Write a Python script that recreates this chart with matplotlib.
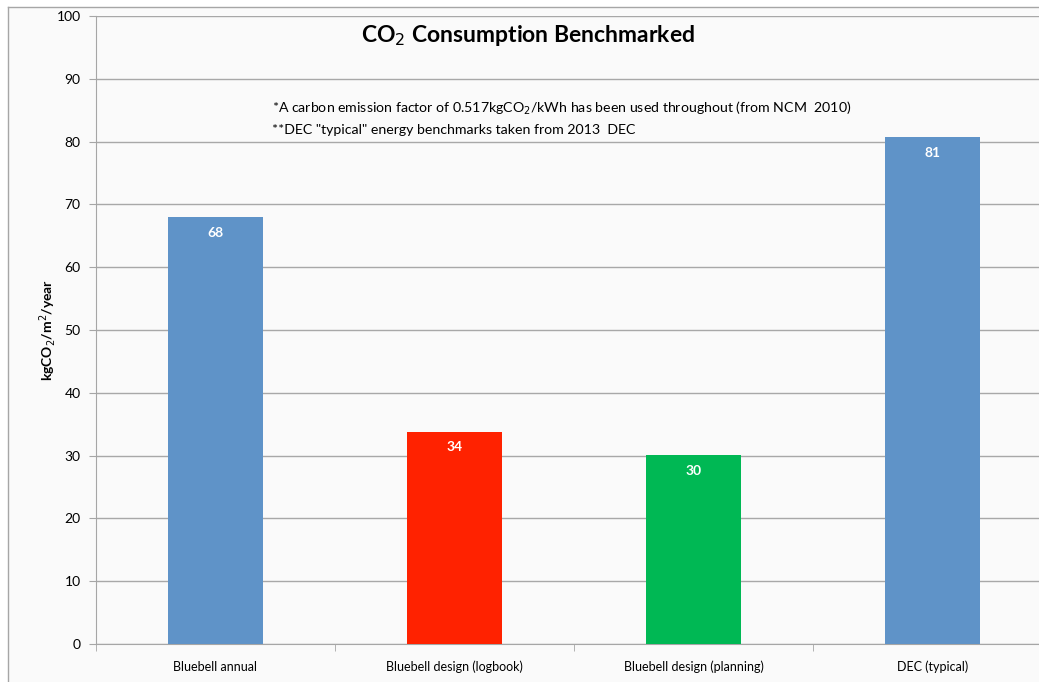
import matplotlib.pyplot as plt
from matplotlib.lines import Line2D

categories = ["Bluebell annual", "Bluebell design (logbook)",
              "Bluebell design (planning)", "DEC (typical)"]
values = [68.0, 33.8, 30.1, 80.7]
value_labels = ["68", "34", "30", "81"]
colors = ["#5F93C8", "#FF2200", "#00B854", "#5F93C8"]

W, H = 1039, 682
plt.rcParams["font.family"] = ["Lato", "DejaVu Sans"]

fig = plt.figure(figsize=(W / 100, H / 100), dpi=100)
fig.patch.set_facecolor("#FFFFFF")

# chart frame (left and top edges visible)
fig.add_artist(Line2D([8 / W, 8 / W], [0, 1 - 7 / H], color="#A6A6A6", lw=1.0))
fig.add_artist(Line2D([8 / W, 1], [1 - 7 / H, 1 - 7 / H], color="#A6A6A6", lw=1.0))
fig.patches.append(plt.Rectangle((9 / W, 0), 1, 1 - 8 / H, transform=fig.transFigure,
                                 facecolor="#FAFAFA", edgecolor="none", zorder=-5))

left, bottom, top = 96, 644, 16
ax = fig.add_axes([left / W, 1 - bottom / H, 956 / W, (bottom - top) / H])
ax.set_facecolor("#FAFAFA")

x = range(len(categories))
bars = ax.bar(x, values, width=0.4, color=colors, zorder=3)
for xi, v, lab in zip(x, values, value_labels):
    ax.text(xi, v - 2.5, lab, ha="center", va="center", color="white",
            fontsize=10, fontweight="bold", zorder=4)

ax.set_xlim(-0.5, 3.5)
ax.set_ylim(0, 100)
ax.set_yticks(range(0, 101, 10))
ax.yaxis.grid(True, color="#A8A8A8", lw=1.0, zorder=0)
ax.set_axisbelow(True)
ax.set_xticks(list(x))
ax.set_xticklabels(categories, fontsize=9)
ax.set_xticks([-0.5, 0.5, 1.5, 2.5], minor=True)
ax.tick_params(axis="x", which="major", length=0, pad=12)
ax.tick_params(axis="x", which="minor", length=5, color="#A6A6A6")
ax.tick_params(axis="y", length=5, color="#A6A6A6", labelsize=10, pad=6)
for s in ["top", "right"]:
    ax.spines[s].set_visible(False)
for s in ["left", "bottom"]:
    ax.spines[s].set_color("#A6A6A6")

ax.set_ylabel(r"kgCO$_2$/m$^2$/year", fontsize=10, fontweight="bold", labelpad=-1)

fig.text(528 / W, 1 - 35 / H, r"CO$_2$ Consumption Benchmarked", ha="center",
         va="center", fontsize=16.5, fontweight="bold")
fig.text(272 / W, 1 - 108 / H,
         r"*A carbon emission factor of 0.517kgCO$_2$/kWh has been used throughout (from NCM  2010)",
         ha="left", va="center", fontsize=10.2)
fig.text(272 / W, 1 - 130 / H,
         '**DEC "typical" energy benchmarks taken from 2013  DEC',
         ha="left", va="center", fontsize=10.2)

fig.savefig("out.png", dpi=100)
